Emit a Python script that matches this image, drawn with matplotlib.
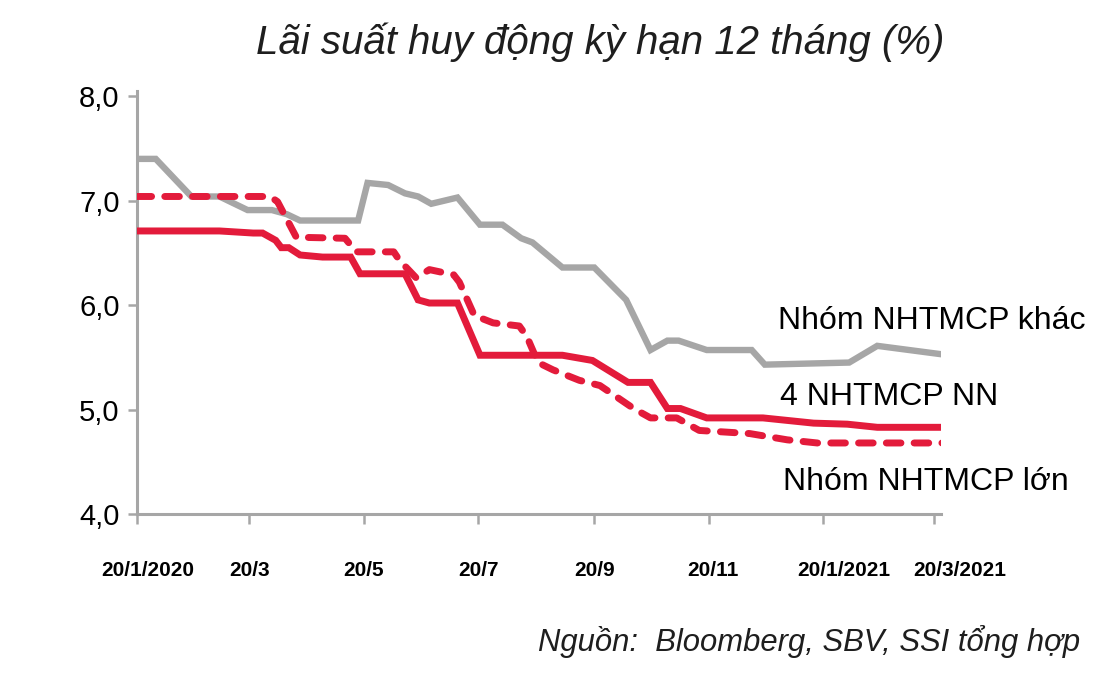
import matplotlib
matplotlib.use("Agg")
import matplotlib.pyplot as plt
import matplotlib.transforms as mtransforms
from matplotlib import font_manager
import pandas as pd

# ---------------- data ----------------
gray_dates = ["2020-01-20", "2020-01-30", "2020-02-18", "2020-03-04", "2020-03-19", "2020-04-01",
              "2020-04-09", "2020-04-16", "2020-05-17", "2020-05-22", "2020-06-02", "2020-06-11",
              "2020-06-18", "2020-06-25", "2020-07-09", "2020-07-21", "2020-08-02", "2020-08-12",
              "2020-08-18", "2020-09-03", "2020-09-20", "2020-10-07", "2020-10-20", "2020-10-29",
              "2020-11-04", "2020-11-19", "2020-12-13", "2020-12-20", "2021-02-03", "2021-02-18",
              "2021-03-24"]
gray_vals = [7.40, 7.40, 7.04, 7.04, 6.91, 6.91, 6.87, 6.81, 6.81, 7.17, 7.15, 7.07, 7.04, 6.97,
             7.03, 6.77, 6.77, 6.64, 6.60, 6.36, 6.36, 6.05, 5.57, 5.66, 5.66, 5.57, 5.57, 5.43,
             5.45, 5.61, 5.53]

solid_dates = ["2020-01-20", "2020-03-04", "2020-03-22", "2020-03-27", "2020-04-03", "2020-04-06",
               "2020-04-10", "2020-04-16", "2020-04-28", "2020-05-13", "2020-05-18", "2020-06-11",
               "2020-06-18", "2020-06-24", "2020-07-09", "2020-07-21", "2020-09-03", "2020-09-19",
               "2020-10-08", "2020-10-20", "2020-10-29", "2020-11-05", "2020-11-19", "2020-12-19",
               "2021-01-15", "2021-02-02", "2021-02-18", "2021-03-25"]
solid_vals = [6.71, 6.71, 6.69, 6.69, 6.62, 6.55, 6.55, 6.48, 6.46, 6.46, 6.30, 6.30, 6.05, 6.02,
              6.02, 5.52, 5.52, 5.47, 5.26, 5.26, 5.01, 5.01, 4.92, 4.92, 4.87, 4.86, 4.83, 4.83]

dash_dates = ["2020-01-20", "2020-03-31", "2020-04-04", "2020-04-14", "2020-05-10", "2020-05-16",
              "2020-06-05", "2020-06-08", "2020-06-17", "2020-06-24", "2020-07-07", "2020-07-10",
              "2020-07-18", "2020-07-28", "2020-08-11", "2020-08-15", "2020-08-21", "2020-08-29",
              "2020-09-12", "2020-09-23", "2020-10-11", "2020-10-20", "2020-11-03", "2020-11-15",
              "2020-12-12", "2021-01-01", "2021-01-17", "2021-03-25"]
dash_vals = [7.04, 7.04, 6.99, 6.65, 6.64, 6.51, 6.51, 6.43, 6.26, 6.34, 6.29, 6.22, 5.90, 5.83,
             5.80, 5.70, 5.45, 5.38, 5.28, 5.23, 5.01, 4.92, 4.92, 4.80, 4.77, 4.71, 4.68, 4.68]

tick_dates = ["2020-01-20", "2020-03-20", "2020-05-20", "2020-07-20", "2020-09-20",
              "2020-11-20", "2021-01-20", "2021-03-20"]
tick_labels = ["20/1/2020", "20/3", "20/5", "20/7", "20/9", "20/11", "20/1/2021", "20/3/2021"]
y_ticks = [4.0, 5.0, 6.0, 7.0, 8.0]
y_labels = ["4,0", "5,0", "6,0", "7,0", "8,0"]

title = "Lãi suất huy động kỳ hạn 12 tháng (%)"
source = "Nguồn:  Bloomberg, SBV, SSI tổng hợp"
label_gray = "Nhóm NHTMCP khác"
label_solid = "4 NHTMCP NN"
label_dash = "Nhóm NHTMCP lớn"

# ---------------- style ----------------
plt.rcParams["font.family"] = ["Liberation Sans", "DejaVu Sans"]

GRAY = "#A6A6A6"
RED = "#E31B3B"
TXT = "#1E1E1E"

fig = plt.figure(figsize=(11.11, 6.84), dpi=100)
ax = fig.add_axes([137 / 1111, 170 / 684, (941 - 137) / 1111, (514 - 91) / 684])

to_dt = pd.to_datetime
ax.plot(to_dt(gray_dates), gray_vals, color=GRAY, lw=4.6, solid_joinstyle="miter", zorder=2)
ax.plot(to_dt(solid_dates), solid_vals, color=RED, lw=5.0, solid_joinstyle="miter", zorder=3)
ax.plot(to_dt(dash_dates), dash_vals, color=RED, lw=5.0, linestyle=(0, (2.1, 1.9)),
        dash_capstyle="round", zorder=3)

ax.set_xlim(to_dt("2020-01-20"), to_dt("2021-03-24"))
ax.set_ylim(4.0, 8.05)

ax.set_yticks(y_ticks)
ax.set_yticklabels(y_labels, fontsize=21)
ax.set_xticks(to_dt(tick_dates))
ax.set_xticklabels(tick_labels, fontsize=15, fontweight="bold")

for side in ["top", "right"]:
    ax.spines[side].set_visible(False)
for side in ["left", "bottom"]:
    ax.spines[side].set_color(GRAY)
    ax.spines[side].set_linewidth(2.2)

ax.tick_params(axis="y", length=6.5, width=1.8, color=GRAY, pad=6)
ax.tick_params(axis="x", length=7, width=1.8, color=GRAY, pad=27)

offsets = [11, 0, 0, 0, 0, 4, 21, 26]
for lab, dx in zip(ax.get_xticklabels(), offsets):
    lab.set_transform(lab.get_transform() + mtransforms.ScaledTranslation(dx / 100, 0, fig.dpi_scale_trans))

fig.text(600 / 1111, 1 - 42 / 684, title, fontsize=29, style="italic",
         ha="center", va="center", color=TXT)
fig.text(1080 / 1111, 1 - 642 / 684, source, fontsize=22.3, style="italic",
         ha="right", va="center", color=TXT)

fig.text(778 / 1111, 1 - 321 / 684, label_gray, fontsize=23, ha="left", va="center")
fig.text(780 / 1111, 1 - 397 / 684, label_solid, fontsize=23, ha="left", va="center")
fig.text(783 / 1111, 1 - 482 / 684, label_dash, fontsize=23, ha="left", va="center")

fig.savefig("out.png", dpi=100)
